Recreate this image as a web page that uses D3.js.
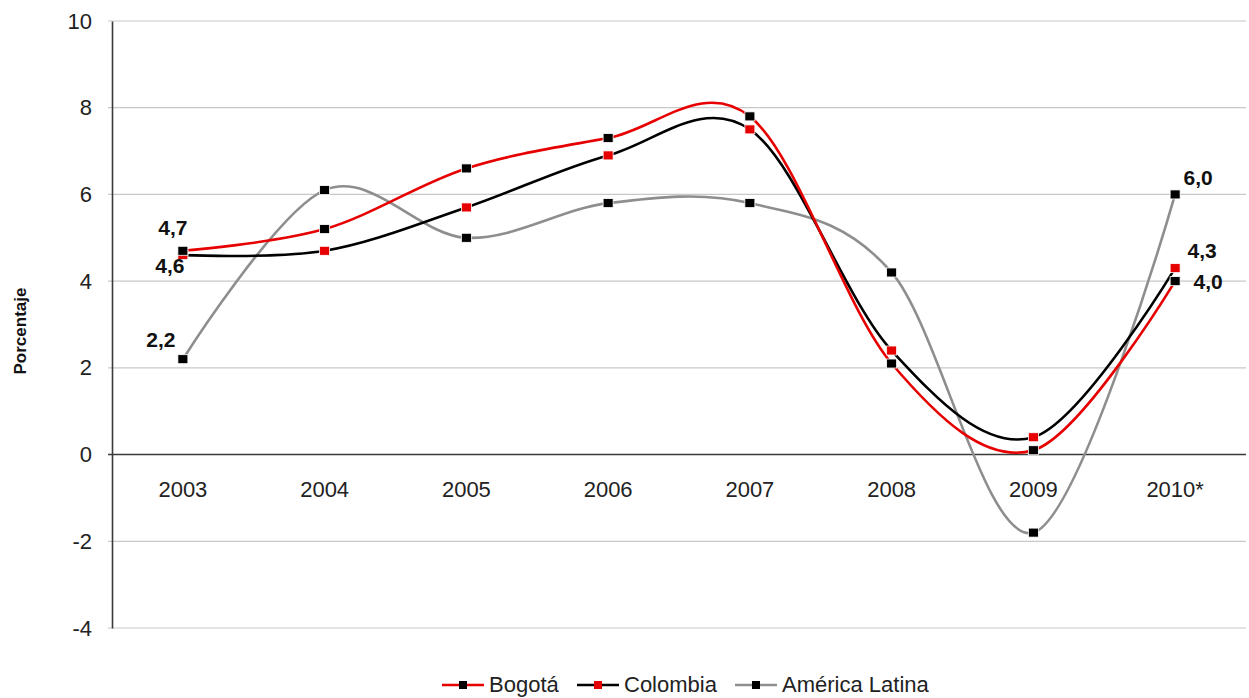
<!DOCTYPE html>
<html><head><meta charset="utf-8">
<script src="https://cdn.jsdelivr.net/npm/d3@7"></script>
<style>body{margin:0;background:#fff}svg{display:block}text{font-family:"Liberation Sans",Arial,sans-serif}</style>
</head><body><svg id="c" width="1249" height="698"></svg>
<script>
const years = ["2003","2004","2005","2006","2007","2008","2009","2010*"];
const bogota = [4.7,5.2,6.6,7.3,7.8,2.1,0.1,4.0];
const colombia = [4.6,4.7,5.7,6.9,7.5,2.4,0.4,4.3];
const americaLatina = [2.2,6.1,5.0,5.8,5.8,4.2,-1.8,6.0];
const yTicks = [-4,-2,0,2,4,6,8,10];
const seriesNames = ["Bogotá","Colombia","América Latina"];

(function(){
const svg = d3.select("#c");
const pL=112, pR=1246, pT=21, pB=628;
const x = d3.scaleBand().domain(years).range([pL,pR]);
const y = d3.scaleLinear().domain([-4,10]).range([pB,pT]);
const cx = d => x(d)+x.bandwidth()/2;
const FS = 22;

// gridlines
svg.append("g").selectAll("line").data(yTicks.filter(t=>t!==0)).join("line")
  .attr("x1",pL-4).attr("x2",pR).attr("y1",d=>y(d)).attr("y2",d=>y(d))
  .attr("stroke","#c8c8c8").attr("stroke-width",1.2);
// y axis
const yAxis = d3.axisLeft(y).tickValues(yTicks).tickSize(0).tickPadding(20).tickFormat(d=>String(d));
const ga = svg.append("g").attr("transform",`translate(${pL},0)`).call(yAxis);
ga.select(".domain").attr("stroke","#3a3a3a").attr("stroke-width",1.6);
ga.selectAll("text").attr("font-size",FS).attr("fill","#222");
// zero line
svg.append("line").attr("x1",pL-4).attr("x2",pR).attr("y1",y(0)).attr("y2",y(0)).attr("stroke","#3a3a3a").attr("stroke-width",1.6);
// x labels
const xAxis = d3.axisBottom(x).tickSize(0).tickPadding(27);
const gx = svg.append("g").attr("transform",`translate(0,${y(0)})`).call(xAxis);
gx.select(".domain").remove();
gx.selectAll("text").attr("font-size",FS).attr("fill","#222");

// axis title
svg.append("text").attr("transform","translate(26,331) rotate(-90)").attr("text-anchor","middle")
  .attr("font-size",17).attr("font-weight","bold").attr("fill","#111").text("Porcentaje");

const line = d3.line().x((d,i)=>cx(years[i])).y(d=>y(d)).curve(d3.curveCardinal.tension(0));
const series = [
  {name:seriesNames[2], vals:americaLatina, line:"#8e8e8e", mark:"#000"},
  {name:seriesNames[1], vals:colombia, line:"#000", mark:"#e60000"},
  {name:seriesNames[0], vals:bogota, line:"#e60000", mark:"#000"}
];
series.forEach(s=>{
  svg.append("path").attr("d",line(s.vals)).attr("fill","none").attr("stroke",s.line).attr("stroke-width",2.6);
});
series.forEach(s=>{
  svg.append("g").selectAll("rect").data(s.vals).join("rect")
    .attr("x",(d,i)=>cx(years[i])-5).attr("y",d=>y(d)-4.5).attr("width",10).attr("height",9)
    .attr("fill",s.mark).attr("stroke","#fff").attr("stroke-width",0.8);
});

// data labels (first and last)
const fmt = v => d3.format(".1f")(v).replace(".",",");
const lab = (xp,yp,v)=>svg.append("text").attr("x",xp).attr("y",yp).attr("text-anchor","middle")
  .attr("font-size",21).attr("font-weight","bold").attr("fill","#111").text(fmt(v));
lab(cx(years[0])-10, y(bogota[0])-16, bogota[0]);
lab(cx(years[0])-13, y(colombia[0])+18, colombia[0]);
lab(cx(years[0])-22, y(americaLatina[0])-12, americaLatina[0]);
lab(cx(years[7])+23, y(americaLatina[7])-9, americaLatina[7]);
lab(cx(years[7])+27, y(colombia[7])-10, colombia[7]);
lab(cx(years[7])+33, y(bogota[7])+8, bogota[7]);

// legend
const legY = 685;
const legend = [
  {name:seriesNames[0], line:"#e60000", mark:"#000", x:442},
  {name:seriesNames[1], line:"#000", mark:"#e60000", x:577},
  {name:seriesNames[2], line:"#8e8e8e", mark:"#000", x:735}
];
legend.forEach(l=>{
  const g = svg.append("g");
  g.append("line").attr("x1",l.x).attr("x2",l.x+42).attr("y1",legY).attr("y2",legY).attr("stroke",l.line).attr("stroke-width",2.6);
  g.append("rect").attr("x",l.x+17).attr("y",legY-4).attr("width",8).attr("height",8).attr("fill",l.mark);
  g.append("text").attr("x",l.x+47).attr("y",legY+7).attr("font-size",FS).attr("fill","#222").text(l.name);
});
})();
</script></body></html>
